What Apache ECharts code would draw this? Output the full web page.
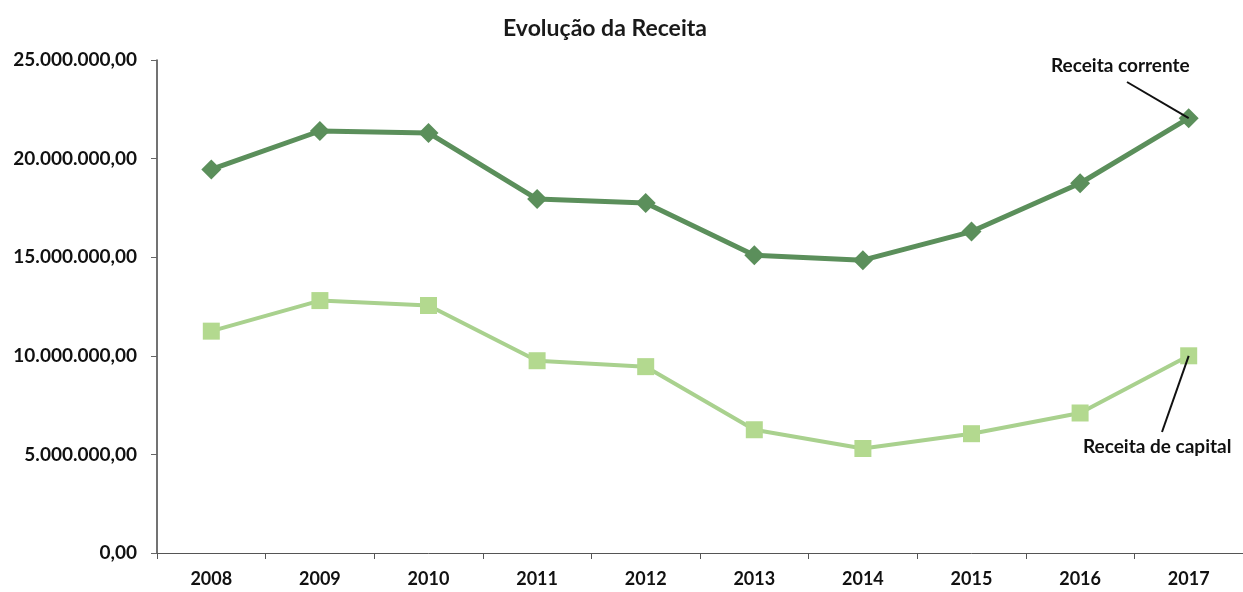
<!DOCTYPE html>
<html>
<head>
<meta charset="utf-8">
<script src="https://cdn.jsdelivr.net/npm/echarts@6/dist/echarts.min.js"></script>
<style>
html,body{margin:0;padding:0;background:#fff;}
#chart{width:1243px;height:592px;}
</style>
</head>
<body>
<div id="chart"></div>
<script>
var categories = ['2008','2009','2010','2011','2012','2013','2014','2015','2016','2017'];
var receitaCorrente = [19450000, 21400000, 21300000, 17950000, 17750000, 15100000, 14850000, 16300000, 18750000, 22050000];
var receitaCapital = [11250000, 12800000, 12550000, 9750000, 9450000, 6250000, 5300000, 6050000, 7100000, 10000000];
var yTicks = [0, 5000000, 10000000, 15000000, 20000000, 25000000];

function fmt(v){
  var s = Math.round(v).toString().replace(/\B(?=(\d{3})+(?!\d))/g, '.');
  return s + ',00';
}

var chart = echarts.init(document.getElementById('chart'));
var font = 'Lato';
var option = {
  backgroundColor: '#fff',
  animation: false,
  title: {
    text: 'Evolução da Receita',
    left: 600, top: 12, textAlign: 'center',
    textStyle: {fontFamily: font, fontWeight: 'bold', fontSize: 23, color: '#1a1a1a'}
  },
  grid: {left: 157, top: 60, width: 1087, height: 493},
  xAxis: {
    type: 'category', data: categories, boundaryGap: true,
    axisLine: {lineStyle: {color: '#555', width: 1}},
    axisTick: {show: true, length: 6, lineStyle: {color: '#555'}},
    axisLabel: {fontFamily: font, fontWeight: 'bold', fontSize: 18, color: '#111', margin: 17}
  },
  yAxis: {
    type: 'value', min: yTicks[0], max: yTicks[yTicks.length-1], interval: 5000000,
    axisLine: {show: true, lineStyle: {color: '#444', width: 1.5}},
    axisTick: {show: true, length: 6, lineStyle: {color: '#666'}},
    splitLine: {show: false},
    axisLabel: {fontFamily: font, fontWeight: 'bold', fontSize: 19, color: '#111', margin: 20, formatter: fmt}
  },
  series: [
    {
      name: 'Receita corrente', type: 'line', data: receitaCorrente,
      symbol: 'diamond', symbolSize: 20,
      lineStyle: {color: '#5b8f5b', width: 5},
      itemStyle: {color: '#5b8f5b'},
      markLine: {
        silent: true, symbol: ['none','none'],
        lineStyle: {color: '#111', width: 2, type: 'solid'},
        label: {show: false},
        data: [[{coord: ['2017', receitaCorrente[9]]}, {x: 1127, y: 82}]]
      }
    },
    {
      name: 'Receita de capital', type: 'line', data: receitaCapital,
      symbol: 'rect', symbolSize: 17,
      lineStyle: {color: '#a9d18e', width: 4},
      itemStyle: {color: '#b3d98f'},
      markLine: {
        silent: true, symbol: ['none','none'],
        lineStyle: {color: '#111', width: 2, type: 'solid'},
        label: {show: false},
        data: [[{coord: ['2017', receitaCapital[9]]}, {x: 1162, y: 432}]]
      }
    }
  ],
  graphic: [
    {type: 'text', left: 1051, top: 56, style: {text: 'Receita corrente', font: 'bold 19px Lato', fill: '#111'}},
    {type: 'text', left: 1083, top: 437, style: {text: 'Receita de capital', font: 'bold 19px Lato', fill: '#111'}}
  ]
};
chart.setOption(option);
</script>
</body>
</html>
